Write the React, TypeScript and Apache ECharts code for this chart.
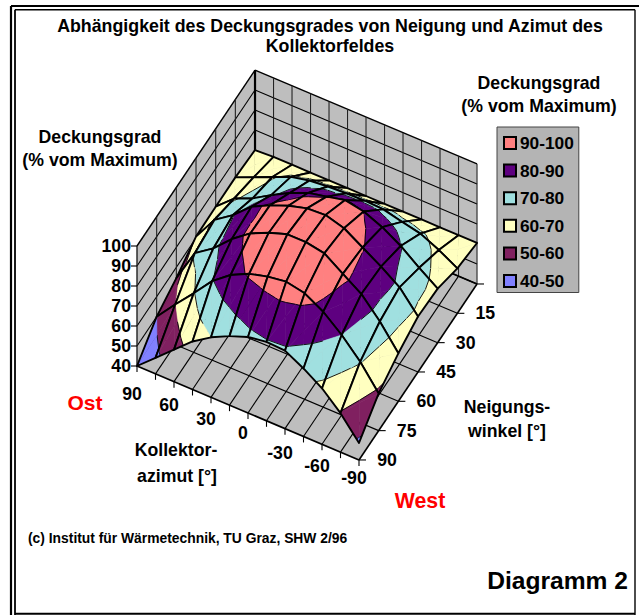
import React, { useEffect, useRef } from "react";
import * as echarts from "echarts";

const titleText = "Abhängigkeit des Deckungsgrades von Neigung und Azimut des\nKollektorfeldes";
const azimutLabels = [90, 60, 30, 0, -30, -60, -90];
const azimutSteps = [90, 75, 60, 45, 30, 15, 0, -15, -30, -45, -60, -75, -90];
const neigungSteps = [90, 75, 60, 45, 30, 15, 0];
const neigungLabels = [15, 30, 45, 60, 75, 90];
const zLabels = [40, 50, 60, 70, 80, 90, 100];

const zNeigung90 = [40, 48, 56, 64, 70, 74.5, 78, 79.5, 79, 74, 68, 59.5, 48.5];
const zNeigung75 = [50, 60, 69.5, 79.5, 86.5, 91, 93.5, 94.9, 93, 87.7, 80, 70.5, 58.6];
const zNeigung60 = [54.6, 71, 77.3, 85.9, 92.6, 96.9, 100, 100, 98.3, 92, 85.8, 76, 64];
const zNeigung45 = [60.7, 73, 79.3, 87.4, 92, 95.7, 98.3, 98.9, 96.2, 90.5, 84.8, 78.4, 67.7];
const zNeigung30 = [61, 69, 73, 78.5, 83.5, 87.5, 89.5, 91.7, 89.9, 86, 80.5, 73.5, 67];
const zNeigung15 = [61, 65, 69, 73, 75, 76, 76.5, 76.7, 76.3, 74, 72, 67.7, 62.5];
const zNeigung0 = [60, 60.5, 60.5, 60.5, 60.5, 60.5, 60.5, 60.5, 60.5, 60.5, 60.5, 60.5, 60.5];
const surfaceRows = [zNeigung90, zNeigung75, zNeigung60, zNeigung45, zNeigung30, zNeigung15, zNeigung0];

const bandNames = ["90-100", "80-90", "70-80", "60-70", "50-60", "40-50"];
const bandLows = [90, 80, 70, 60, 50, 40];
const bandColors = ["#FF8080", "#5E0080", "#A0E0E0", "#FFFFC0", "#802060", "#8080FF"];

const FONT = '"Liberation Sans", Arial, sans-serif';
const WALL = "#BEBEBE";
const LABEL = 17.7;
const azimutLabelDrop = [28, 23, 22, 20, 24, 22, 18];

// oblique projection of the chart's box onto the page
const project = (i: number, j: number, z: number): number[] => [
  137 + 18.5 * i + 19.67 * j,
  366 + 7.83 * i - 29.33 * j - 2 * (z - 40),
];

type V = number[]; // i, j, z
function clip(poly: V[], level: number, keepAbove: boolean): V[] {
  const out: V[] = [];
  for (let k = 0; k < poly.length; k++) {
    const a = poly[k];
    const b = poly[(k + 1) % poly.length];
    const ain = keepAbove ? a[2] >= level : a[2] <= level;
    const bin = keepAbove ? b[2] >= level : b[2] <= level;
    if (ain) out.push(a);
    if (ain !== bin) {
      const t = (level - a[2]) / (b[2] - a[2]);
      out.push([a[0] + t * (b[0] - a[0]), a[1] + t * (b[1] - a[1]), level]);
    }
  }
  return out;
}

function surfaceCell(params: any, api: any) {
  const i = api.value(0);
  const j = api.value(1);
  const to = (v: V) => api.coord(project(v[0], v[1], v[2]));
  const corners: V[] = [
    [i, j, surfaceRows[j][i]],
    [i + 1, j, surfaceRows[j][i + 1]],
    [i + 1, j + 1, surfaceRows[j + 1][i + 1]],
    [i, j + 1, surfaceRows[j + 1][i]],
  ];
  const center: V = [i + 0.5, j + 0.5, corners.reduce((s, c) => s + c[2], 0) / 4];
  const children: any[] = [];
  for (let k = 0; k < 4; k++) {
    const tri = [corners[k], corners[(k + 1) % 4], center];
    bandLows.forEach((lo, b) => {
      let p = clip(tri, lo, true);
      if (p.length && lo < 90) p = clip(p, lo + 10, false);
      if (p.length >= 3) {
        children.push({
          type: "polygon",
          shape: { points: p.map(to) },
          style: { fill: bandColors[b], stroke: bandColors[b], lineWidth: 0.5 },
        });
      }
    });
    bandLows.slice(0, 5).forEach((lo) => {
      const pts: V[] = [];
      for (let e = 0; e < 3; e++) {
        const a = tri[e];
        const c = tri[(e + 1) % 3];
        if ((a[2] - lo) * (c[2] - lo) < 0) {
          const t = (lo - a[2]) / (c[2] - a[2]);
          pts.push([a[0] + t * (c[0] - a[0]), a[1] + t * (c[1] - a[1]), lo]);
        }
      }
      if (pts.length === 2) {
        children.push({
          type: "line",
          shape: { x1: to(pts[0])[0], y1: to(pts[0])[1], x2: to(pts[1])[0], y2: to(pts[1])[1] },
          style: { stroke: "#000", lineWidth: 0.9 },
        });
      }
    });
  }
  children.push({
    type: "polygon",
    shape: { points: corners.map(to) },
    style: { fill: "none", stroke: "#000", lineWidth: 1.9, lineJoin: "round" },
  });
  return { type: "group", children };
}

function boxItem(params: any, api: any) {
  const seg = (a: number[], b: number[], w: number, color = "#000") => {
    const p = api.coord(project(a[0], a[1], a[2]));
    const q = api.coord(project(b[0], b[1], b[2]));
    return { type: "line", shape: { x1: p[0], y1: p[1], x2: q[0], y2: q[1] }, style: { stroke: color, lineWidth: w } };
  };
  const poly = (vs: number[][]) => ({
    type: "polygon",
    shape: { points: vs.map((v) => api.coord(project(v[0], v[1], v[2]))) },
    style: { fill: WALL, stroke: "none" },
  });
  const ch: any[] = [
    poly([[0, 6, 40], [12, 6, 40], [12, 6, 100], [0, 6, 100]]),
    poly([[0, 6, 40], [0, 0, 40], [0, 0, 100], [0, 6, 100]]),
    poly([[0, 0, 40], [12, 0, 40], [12, 6, 40], [0, 6, 40]]),
  ];
  zLabels.forEach((z) => {
    const w = z === 100 ? 1.4 : 1.1;
    ch.push(seg([0, 6, z], [12, 6, z], w));
    ch.push(seg([0, 6, z], [0, 0, z], w));
  });
  azimutSteps.forEach((_, i) => {
    ch.push(seg([i, 6, 40], [i, 6, 100], i === 0 ? 2.2 : 1.1, i === 0 ? "#000" : "#222"));
    ch.push(seg([i, 0, 40], [i, 6, 40], i === 0 || i === 12 ? 1.6 : 1.1));
  });
  neigungSteps.forEach((_, j) => {
    ch.push(seg([0, j, 40], [0, j, 100], j === 0 ? 1.4 : 1.1, j === 6 ? "#000" : "#222"));
    ch.push(seg([0, j, 40], [12, j, 40], j === 0 || j === 6 ? 1.8 : 1.1));
  });
  zLabels.forEach((z) => {
    const p = project(0, 0, z);
    ch.push({ type: "line", shape: { x1: p[0] - 6, y1: p[1], x2: p[0], y2: p[1] }, style: { stroke: "#000", lineWidth: 1.1 } });
  });
  azimutSteps.forEach((_, i) => {
    const p = project(i, 0, 40);
    ch.push({ type: "line", shape: { x1: p[0], y1: p[1], x2: p[0], y2: p[1] + 6 }, style: { stroke: "#000", lineWidth: 1.1 } });
  });
  neigungSteps.forEach((_, j) => {
    const p = project(12, j, 40);
    ch.push({ type: "line", shape: { x1: p[0], y1: p[1], x2: p[0] + 7, y2: p[1] }, style: { stroke: "#000", lineWidth: 1.1 } });
  });
  return { type: "group", children: ch };
}

const cells: number[][] = [];
for (let j = 0; j < surfaceRows.length - 1; j++) {
  for (let i = 0; i < azimutSteps.length - 1; i++) cells.push([i, j]);
}
cells.sort((a, b) => project(a[0], a[1], 40)[1] - project(b[0], b[1], 40)[1]);

const label = (text: string, x: number, y: number, size: number, align = "center", color = "#000") => ({
  type: "text",
  x,
  y,
  z: 20,
  style: { text, fill: color, font: `bold ${size}px ${FONT}`, align, verticalAlign: "middle" },
});
const rule = (x1: number, y1: number, x2: number, y2: number, w: number) => ({
  type: "line",
  shape: { x1, y1, x2, y2 },
  z: 20,
  style: { stroke: "#000", lineWidth: w },
});

export default function App() {
  const ref = useRef<HTMLDivElement>(null);
  useEffect(() => {
    document.body.style.margin = "0";
    const chart = echarts.init(ref.current!, undefined, { renderer: "svg" });
    const graphics: any[] = [
      rule(11, 6, 639, 6, 1.8),
      rule(11, 6, 11, 615, 2.2),
      rule(15, 9.7, 635, 9.7, 1.4),
      rule(15, 9.7, 15, 615, 1.8),
      rule(635, 9.7, 635, 615, 1.4),
      rule(15, 613.8, 635, 613.8, 2),
      label("Deckungsgrad", 539, 83, LABEL),
      label("(% vom Maximum)", 539, 106, LABEL),
      label("Deckungsgrad", 100, 137, LABEL),
      label("(% vom Maximum)", 100, 160, LABEL),
      label("Ost", 85, 402, 21, "center", "#FF0000"),
      label("West", 420, 501, 21.3, "center", "#FF0000"),
      label("Kollektor-", 176, 450, LABEL),
      label("azimut [°]", 177, 476, LABEL),
      label("Neigungs-", 507, 407, LABEL),
      label("winkel [°]", 507, 431, LABEL),
      label("(c) Institut für Wärmetechnik, TU Graz, SHW 2/96", 28, 538, 13.85, "left"),
      label("Diagramm 2", 628, 580, 24.6, "right"),
    ];
    zLabels.forEach((z) => {
      const p = project(0, 0, z);
      graphics.push(label(String(z), p[0] - 6, p[1], LABEL, "right"));
    });
    azimutLabels.forEach((a, k) => {
      const p = project((90 - a) / 15, 0, 40);
      graphics.push(label(String(a), p[0] - 5, p[1] + azimutLabelDrop[k], LABEL));
    });
    neigungLabels.forEach((n) => {
      const p = project(12, (90 - n) / 15, 40);
      graphics.push(label(String(n), p[0] + 28, p[1], LABEL));
    });
    chart.setOption({
      animation: false,
      backgroundColor: "#fff",
      title: {
        text: titleText,
        left: 325,
        top: 11,
        textAlign: "center",
        textStyle: { fontFamily: FONT, fontWeight: "bold", fontSize: 17.8, lineHeight: 20, color: "#000" },
      },
      legend: {
        orient: "vertical",
        left: 497,
        top: 127,
        padding: [7.5, 5, 3, 6],
        itemWidth: 12,
        itemHeight: 12,
        itemGap: 10.6,
        selectedMode: false,
        backgroundColor: "#B4B4B4",
        borderColor: "#444",
        borderWidth: 1,
        data: bandNames.map((name) => ({ name, icon: "rect" })),
        textStyle: { fontFamily: FONT, fontWeight: "bold", fontSize: 17.3, color: "#000", padding: [0, 0, 0, -1] },
      },
      grid: { left: 0, top: 0, width: 639, height: 615 },
      xAxis: { type: "value", min: 0, max: 639, show: false },
      yAxis: { type: "value", min: 0, max: 615, inverse: true, show: false },
      graphic: graphics,
      series: [
        { type: "custom", coordinateSystem: "cartesian2d", clip: false, silent: true, renderItem: boxItem, data: [[0, 0]], z: 1 },
        { type: "custom", coordinateSystem: "cartesian2d", clip: false, silent: true, renderItem: surfaceCell, data: cells, z: 2 },
        ...bandNames.map((name, b) => ({
          type: "custom",
          name,
          coordinateSystem: "cartesian2d",
          renderItem: () => null,
          data: [],
          itemStyle: { color: bandColors[b], borderColor: "#000", borderWidth: 1 },
        })),
      ],
    });
    return () => chart.dispose();
  }, []);
  return <div ref={ref} style={{ width: 639, height: 615 }} />;
}
